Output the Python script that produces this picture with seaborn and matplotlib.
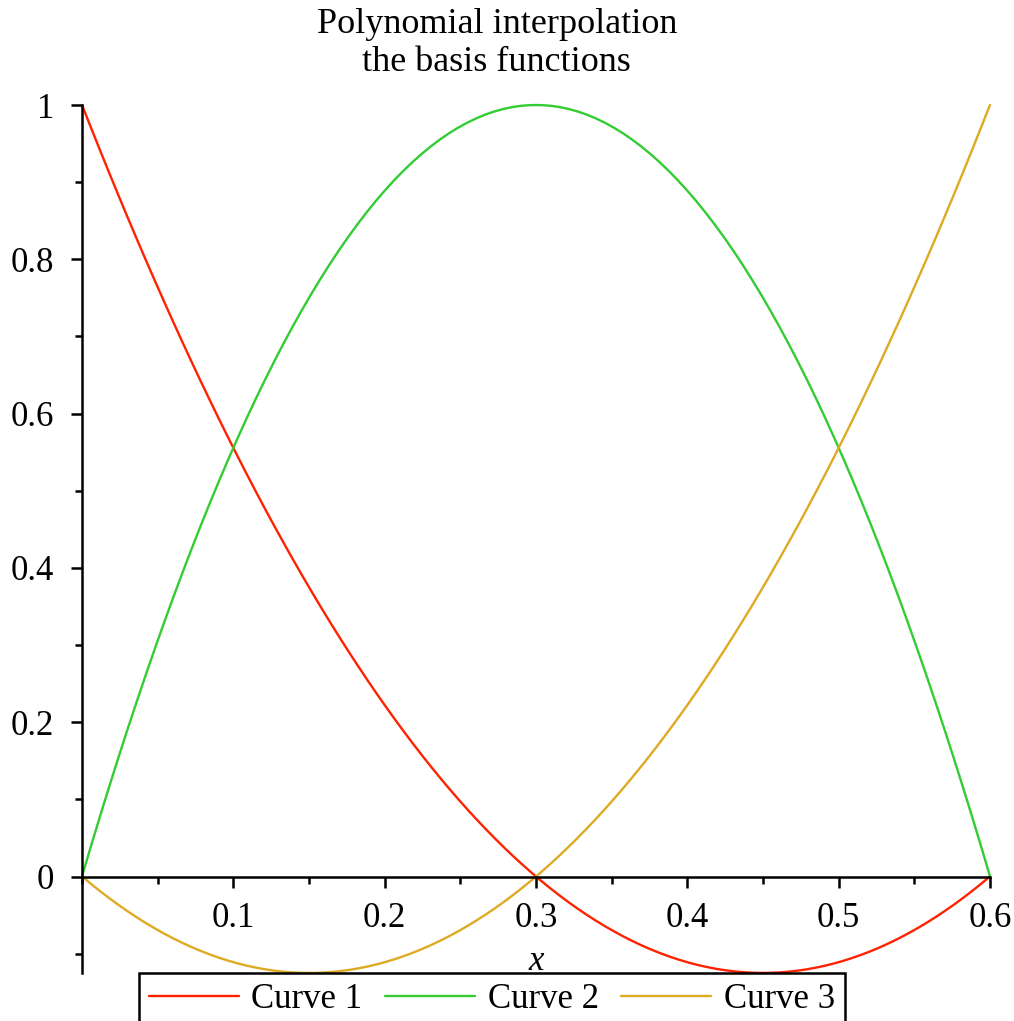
import numpy as np
import pandas as pd
import seaborn as sns
import matplotlib.pyplot as plt
from matplotlib.ticker import MultipleLocator

# values, every 0.05 along x
x_vals = [0.0, 0.05, 0.1, 0.15, 0.2, 0.25, 0.3, 0.35, 0.4, 0.45, 0.5, 0.55, 0.6]
curve1 = [1.0, 0.764, 0.556, 0.375, 0.222, 0.097, 0.0, -0.069, -0.111, -0.125, -0.111, -0.069, 0.0]
curve2 = [0.0, 0.306, 0.556, 0.75, 0.889, 0.972, 1.0, 0.972, 0.889, 0.75, 0.556, 0.306, 0.0]
curve3 = [0.0, -0.069, -0.111, -0.125, -0.111, -0.069, 0.0, 0.097, 0.222, 0.375, 0.556, 0.764, 1.0]
names = ["Curve 1", "Curve 2", "Curve 3"]
colors = ["#FF2200", "#33CC33", "#DDAA22"]

xticks = [0.1, 0.2, 0.3, 0.4, 0.5, 0.6]
xtick_labels = ["0.1", "0.2", "0.3", "0.4", "0.5", "0.6"]
yticks = [0, 0.2, 0.4, 0.6, 0.8, 1.0]
ytick_labels = ["0", "0.2", "0.4", "0.6", "0.8", "1"]

df = pd.DataFrame({"x": x_vals, names[0]: curve1, names[1]: curve2, names[2]: curve3})

sns.set_theme(style="white")
plt.rcParams['font.family'] = ['Liberation Serif', 'DejaVu Serif']

fig = plt.figure(figsize=(10.14, 10.21), dpi=100)
ax = fig.add_axes([82 / 1014, 1 - 973 / 1021, (990 - 82) / 1014, (973 - 105) / 1021])

# quadratic through the read points, fitted by seaborn
for name, c in zip(names, colors):
    sns.regplot(data=df, x="x", y=name, order=2, scatter=False, ci=None, truncate=True,
                ax=ax, line_kws={"color": c, "lw": 1.7, "clip_on": False})

ax.set_xlim(0, 0.6)
ax.set_ylim(-0.125, 1.0)

for s in ["top", "right"]:
    ax.spines[s].set_visible(False)
ax.spines["bottom"].set_position(("data", 0))
ax.spines["left"].set_position(("data", 0))
for s in ["bottom", "left"]:
    ax.spines[s].set_linewidth(1.8)
    ax.spines[s].set_color("black")

ax.set_xticks(xticks, xtick_labels)
ax.set_yticks(yticks, ytick_labels)
ax.xaxis.set_minor_locator(MultipleLocator(0.05))
ax.yaxis.set_minor_locator(MultipleLocator(0.1))
ax.tick_params(which="major", direction="out", length=8, width=1.8, labelsize=25, color="black",
               labelcolor="black")
ax.tick_params(which="minor", direction="out", length=5, width=1.8, color="black")
ax.tick_params(axis="y", which="both", left=True, pad=12)
ax.tick_params(axis="x", which="both", bottom=True, pad=10)
ax.set_xlabel("")
ax.set_ylabel("")
ax.text(0.3, -0.11, "x", fontsize=25, style="italic", ha="center", va="center", color="black")

fig.suptitle("Polynomial interpolation\nthe basis functions", x=0.49, y=1 - 8 / 1021,
             va="top", fontsize=26, linespacing=1.2, color="black")

leg = ax.legend(handles=ax.lines[:3], labels=names, loc="upper center",
                bbox_to_anchor=(0.485, 1 - 973 / 1021),
                bbox_transform=fig.transFigure, ncol=3, fontsize=25, frameon=True,
                fancybox=False, handlelength=2.6, handletextpad=0.35, columnspacing=0.65,
                borderpad=0.3, borderaxespad=0)
leg.get_frame().set_edgecolor("black")
leg.get_frame().set_linewidth(1.8)
leg.get_frame().set_alpha(1)
for t in leg.get_texts():
    t.set_color("black")

fig.savefig("out.png", dpi=100)
